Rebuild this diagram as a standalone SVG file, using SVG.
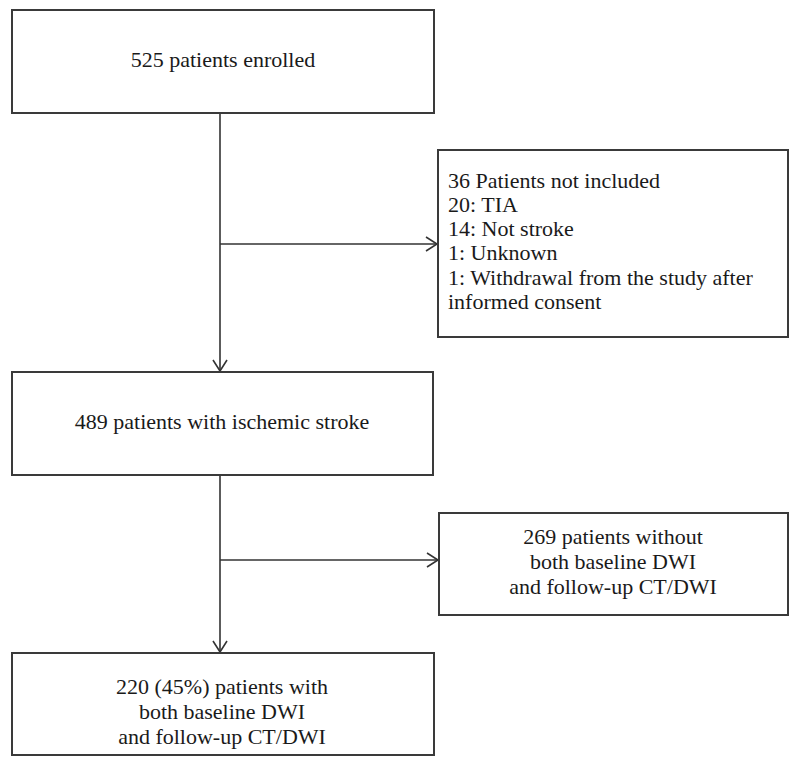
<svg xmlns="http://www.w3.org/2000/svg" width="800" height="767" viewBox="0 0 800 767">
<defs>
<style>
.box{fill:#fff;stroke:#3a3a3a;stroke-width:2}
.t{font-family:"Liberation Serif","Times New Roman",serif;font-size:22px;fill:#1a1a1a}
.c{text-anchor:middle}
.ln{stroke:#333;stroke-width:1.6;fill:none}
</style>
<marker id="arr" markerWidth="14" markerHeight="16" refX="12" refY="8" orient="auto" markerUnits="userSpaceOnUse">
<path d="M1,1 L12,8 L1,15" fill="none" stroke="#333" stroke-width="1.6"/>
</marker>
</defs>
<rect width="800" height="767" fill="#fff"/>
<g id="connectors">
<line class="ln" x1="220" y1="113" x2="220" y2="371" marker-end="url(#arr)"/>
<line class="ln" x1="220" y1="244" x2="437" y2="244" marker-end="url(#arr)"/>
<line class="ln" x1="220" y1="475" x2="220" y2="652" marker-end="url(#arr)"/>
<line class="ln" x1="220" y1="560" x2="438" y2="560" marker-end="url(#arr)"/>
</g>
<g id="enrolled">
<rect class="box" x="12" y="10" width="422" height="103"/>
<text class="t c" x="223" y="67">525 patients enrolled</text>
</g>
<g id="excluded1">
<rect class="box" x="438" y="150" width="350" height="187"/>
<text class="t" x="448" y="188">36 Patients not included</text>
<text class="t" x="448" y="212">20: TIA</text>
<text class="t" x="448" y="236">14: Not stroke</text>
<text class="t" x="448" y="260">1: Unknown</text>
<text class="t" x="448" y="285">1: Withdrawal from the study after</text>
<text class="t" x="448" y="309">informed consent</text>
</g>
<g id="ischemic">
<rect class="box" x="12" y="372" width="421" height="103"/>
<text class="t c" x="222" y="429">489 patients with ischemic stroke</text>
</g>
<g id="excluded2">
<rect class="box" x="439" y="513" width="349" height="102"/>
<text class="t c" x="613" y="544">269 patients without</text>
<text class="t c" x="613" y="569">both baseline DWI</text>
<text class="t c" x="613" y="594">and follow-up CT/DWI</text>
</g>
<g id="final">
<rect class="box" x="12" y="653" width="422" height="102"/>
<text class="t c" x="222" y="694">220 (45%) patients with</text>
<text class="t c" x="222" y="719">both baseline DWI</text>
<text class="t c" x="222" y="744">and follow-up CT/DWI</text>
</g>
</svg>
